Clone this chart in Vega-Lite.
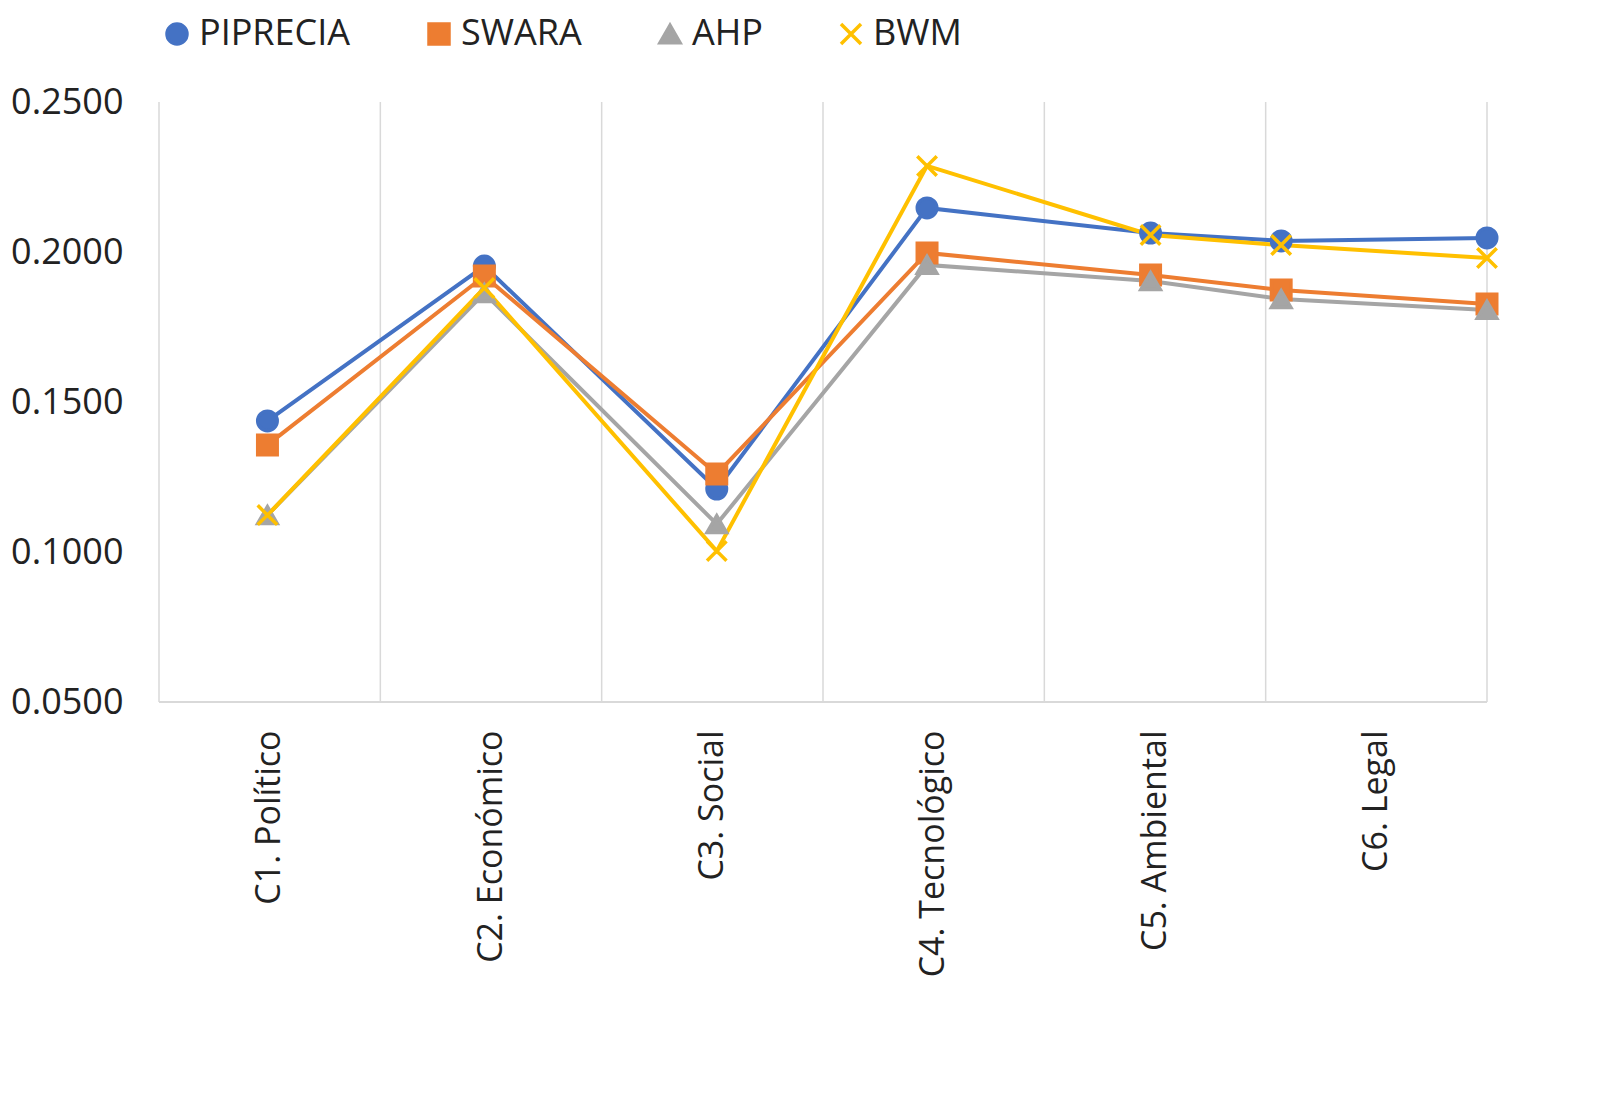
{
  "$schema": "https://vega.github.io/schema/vega-lite/v6.json",
  "width": 1328,
  "height": 600,
  "padding": {"left": 10, "top": 16, "right": 40, "bottom": 10},
  "background": "white",
  "config": {
    "font": "Open Sans",
    "view": {"stroke": null},
    "axis": {"labelFont": "Open Sans", "labelColor": "#222", "domain": false, "ticks": false}
  },
  "datasets": {
    "main": [
      {"x": 0.49, "method": "PIPRECIA", "v": 0.1437},
      {"x": 1.47, "method": "PIPRECIA", "v": 0.1953},
      {"x": 2.52, "method": "PIPRECIA", "v": 0.121},
      {"x": 3.47, "method": "PIPRECIA", "v": 0.2147},
      {"x": 4.48, "method": "PIPRECIA", "v": 0.2063},
      {"x": 5.07, "method": "PIPRECIA", "v": 0.2037},
      {"x": 6.0, "method": "PIPRECIA", "v": 0.2047},
      {"x": 0.49, "method": "SWARA", "v": 0.1357},
      {"x": 1.47, "method": "SWARA", "v": 0.192},
      {"x": 2.52, "method": "SWARA", "v": 0.126},
      {"x": 3.47, "method": "SWARA", "v": 0.1997},
      {"x": 4.48, "method": "SWARA", "v": 0.1923},
      {"x": 5.07, "method": "SWARA", "v": 0.1873},
      {"x": 6.0, "method": "SWARA", "v": 0.1827},
      {"x": 0.49, "method": "AHP", "v": 0.1123},
      {"x": 1.47, "method": "AHP", "v": 0.1863},
      {"x": 2.52, "method": "AHP", "v": 0.1093},
      {"x": 3.47, "method": "AHP", "v": 0.1957},
      {"x": 4.48, "method": "AHP", "v": 0.1903},
      {"x": 5.07, "method": "AHP", "v": 0.1843},
      {"x": 6.0, "method": "AHP", "v": 0.1807},
      {"x": 0.49, "method": "BWM", "v": 0.1123},
      {"x": 1.47, "method": "BWM", "v": 0.188},
      {"x": 2.52, "method": "BWM", "v": 0.1003},
      {"x": 3.47, "method": "BWM", "v": 0.2287},
      {"x": 4.48, "method": "BWM", "v": 0.2057},
      {"x": 5.07, "method": "BWM", "v": 0.2023},
      {"x": 6.0, "method": "BWM", "v": 0.198}
    ],
    "grid": [{"g": 0}, {"g": 1}, {"g": 2}, {"g": 3}, {"g": 4}, {"g": 5}, {"g": 6}]
  },
  "layer": [
    {
      "data": {"name": "grid"},
      "mark": {"type": "rule", "color": "#d9d9d9", "strokeWidth": 1.5},
      "encoding": {
        "x": {"field": "g", "type": "quantitative", "scale": {"domain": [0, 6], "nice": false}}
      }
    },
    {
      "data": {"name": "main"},
      "mark": {"type": "rule", "color": "#d9d9d9", "strokeWidth": 1.5},
      "encoding": {"y": {"datum": 0.05}}
    },
    {
      "data": {"name": "main"},
      "mark": {"type": "line", "strokeWidth": 4},
      "encoding": {
        "x": {
          "field": "x", "type": "quantitative",
          "scale": {"domain": [0, 6], "nice": false},
          "axis": {
            "title": null, "grid": false, "values": [0.5, 1.5, 2.5, 3.5, 4.5, 5.5],
            "labelAngle": -90, "labelFontSize": 34, "labelPadding": 28, "labelLimit": 0,
            "labelExpr": "['C1. Político','C2.  Económico','C3.  Social','C4.  Tecnológico','C5.  Ambiental','C6.  Legal'][round(datum.value - 0.5)]"
          }
        },
        "y": {
          "field": "v", "type": "quantitative",
          "scale": {"domain": [0.05, 0.25], "nice": false, "zero": false},
          "axis": {"title": null, "grid": false, "values": [0.05, 0.1, 0.15, 0.2, 0.25], "format": ".4f", "labelFontSize": 36, "labelPadding": 36}
        },
        "color": {"field": "method", "type": "nominal",
          "scale": {"domain": ["PIPRECIA", "SWARA", "AHP", "BWM"], "range": ["#4472C4", "#ED7D31", "#A5A5A5", "#FFC000"]},
          "legend": {
            "title": null, "orient": "top", "direction": "horizontal", "labelFontSize": 36,
            "labelColor": "#222", "symbolSize": 400, "symbolStrokeWidth": 3.5, "columnPadding": 70, "offset": 50,
            "symbolType": "circle"
          }},
        "detail": {"field": "method"}
      }
    },
    {
      "data": {"name": "main"},
      "mark": {"type": "point", "filled": true, "size": 380, "strokeWidth": 3.5, "opacity": 1},
      "encoding": {
        "x": {"field": "x", "type": "quantitative"},
        "y": {"field": "v", "type": "quantitative"},
        "color": {"field": "method", "type": "nominal"},
        "stroke": {"field": "method", "type": "nominal", "legend": null,
          "scale": {"domain": ["PIPRECIA", "SWARA", "AHP", "BWM"], "range": ["#4472C4", "#ED7D31", "#A5A5A5", "#FFC000"]}},
        "shape": {"field": "method", "type": "nominal", "legend": null,
          "scale": {"domain": ["PIPRECIA", "SWARA", "AHP", "BWM"], "range": ["circle", "square", "triangle-up", "M-1,-1L1,1M-1,1L1,-1"]}}
      }
    }
  ]
}
